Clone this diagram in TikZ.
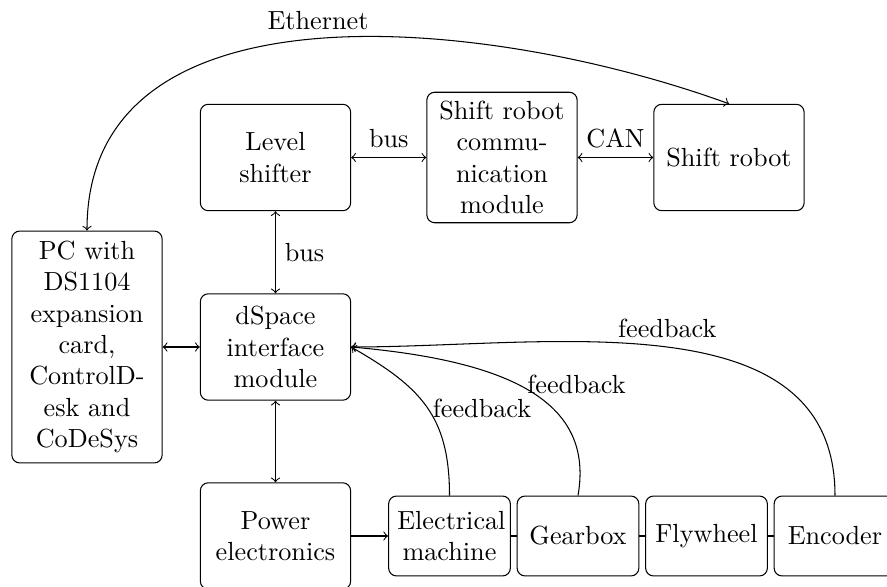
\documentclass[tikz,border=0pt]{standalone}
\begin{document}
\begin{tikzpicture}[x=0.38168pt,y=0.38168pt,>=to,
  box/.style={draw, rounded corners=3pt, align=center, text width=50.7pt,
    minimum height=40.6pt, inner sep=3.33pt},
  sbox/.style={draw, rounded corners=3pt, align=center, text width=39.8pt,
    minimum height=30.5pt, inner sep=3.33pt}]
\useasboundingbox (0,0) rectangle (887,-587);
% upper row
\node[box] (lvl) at (275.5,-157.5) {Level shifter};
\node[box] (comm) at (502,-157.5) {Shift robot communication module};
\node[box] (robot) at (729,-157.5) {Shift robot};
% middle
\node[box, minimum height=88.5pt] (pc) at (87,-347) {PC with DS1104 expansion card, ControlDesk and CoDeSys};
\node[box] (dspace) at (275.5,-347) {dSpace interface module};
% bottom
\node[box] (power) at (275.5,-536) {Power electronics};
\node[sbox] (elec) at (449.5,-536) {Electrical machine};
\node[sbox] (gear) at (578,-536) {Gearbox};
\node[sbox] (fly) at (706.5,-536) {Flywheel};
\node[sbox] (enc) at (835,-536) {Encoder};
% connectors
\draw[<->] (lvl) -- node[above] {bus} (comm);
\draw[<->] (comm) -- node[above] {CAN} (robot);
\draw[<->] (lvl) -- node[right] {bus} (dspace);
\draw[<->] (pc) -- (dspace);
\draw[<->] (dspace) -- (power);
\draw[->] (power) -- (elec);
\draw (elec) -- (gear);
\draw (gear) -- (fly);
\draw (fly) -- (enc);
\draw[<->] (pc.north) to[out=90,in=160] node[above] {Ethernet} (robot.north);
\draw[->] (elec.north) to[out=90,in=-30,looseness=1.15] node[pos=0.5,right,xshift=-1pt,yshift=-1pt] {feedback} (dspace.east);
\draw[->] (gear.north) to[out=80,in=-5,out distance=36.3pt,in distance=61pt] node[pos=0.55,right] {feedback} (dspace.east);
\draw[->] (enc.north) to[out=90,in=0] node[above] {feedback} (dspace.east);
\end{tikzpicture}
\end{document}
